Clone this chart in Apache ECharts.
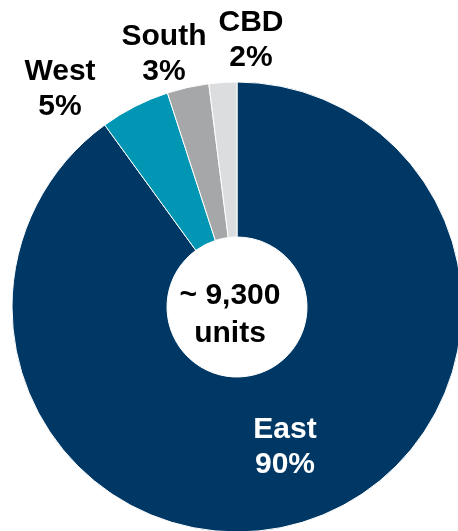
<!DOCTYPE html>
<html>
<head>
<meta charset="utf-8">
<script src="https://cdn.jsdelivr.net/npm/echarts@6/dist/echarts.min.js"></script>
<style>
  html, body { margin: 0; padding: 0; background: #ffffff; }
  #chart { width: 458px; height: 531px; }
</style>
</head>
<body>
<div id="chart"></div>
<script>
// Share of units by region
const regions = ['East', 'West', 'South', 'CBD'];
const shares = [90, 5, 3, 2];
const totalLabel = '~ 9,300\nunits';

const colors = ['#003865', '#0096B4', '#A5A7A8', '#DCDDDE'];
const labelColors = ['#ffffff', '#000000', '#000000', '#000000'];
// label anchor points (px) for each region
const labelPos = [[285, 447], [60, 89], [164, 54], [251, 40]];

const chart = echarts.init(document.getElementById('chart'), null, { renderer: 'canvas' });

chart.setOption({
  animation: false,
  backgroundColor: '#ffffff',
  series: [{
    type: 'pie',
    center: [237, 307],
    radius: [70, 225],
    startAngle: 90,
    clockwise: true,
    avoidLabelOverlap: false,
    itemStyle: { borderColor: '#ffffff', borderWidth: 1 },
    label: {
      show: true,
      position: 'inside',
      formatter: '{b}\n{d}%',
      fontFamily: 'Liberation Sans, Arial, sans-serif',
      fontWeight: 'bold',
      fontSize: 30,
      lineHeight: 35,
      align: 'center'
    },
    labelLine: { show: false },
    labelLayout: function (p) {
      const pos = labelPos[p.dataIndex];
      return { x: pos[0], y: pos[1], align: 'center', verticalAlign: 'middle' };
    },
    data: regions.map((name, i) => ({
      name: name,
      value: shares[i],
      itemStyle: { color: colors[i] },
      label: { color: labelColors[i] }
    }))
  }],
  graphic: [{
    type: 'text',
    x: 230,
    y: 315,
    style: {
      text: totalLabel,
      align: 'center',
      verticalAlign: 'middle',
      fill: '#000000',
      font: 'bold 30px "Liberation Sans", Arial, sans-serif',
      lineHeight: 38
    }
  }]
});
</script>
</body>
</html>
